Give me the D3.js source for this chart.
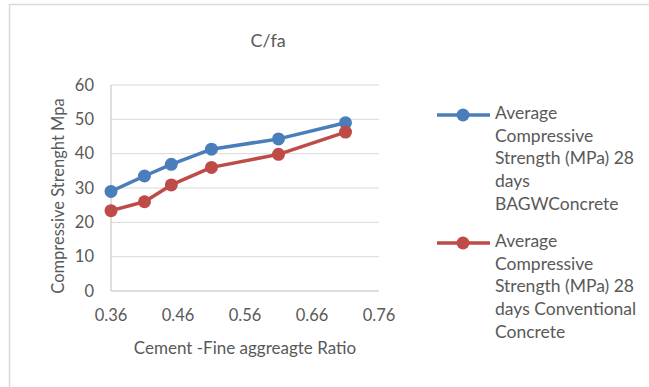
<!DOCTYPE html>
<html><head><meta charset="utf-8">
<script src="https://cdn.jsdelivr.net/npm/d3@7"></script>
<style>body{margin:0;background:#fff}svg{display:block}text{font-family:Lato,"Open Sans",sans-serif;fill:#595959}</style>
</head><body><svg id="c" width="649" height="387"></svg>
<script>
const ratios = [0.36, 0.41, 0.45, 0.51, 0.61, 0.71];
const bagw = [29.0, 33.5, 36.9, 41.3, 44.3, 49.0];
const conventional = [23.4, 26.0, 30.9, 36.0, 39.8, 46.3];
const xTicks = [0.36, 0.46, 0.56, 0.66, 0.76];
const yTicks = [0, 10, 20, 30, 40, 50, 60];
const seriesNames = [
  ["Average", "Compressive", "Strength (MPa) 28", "days", "BAGWConcrete"],
  ["Average", "Compressive", "Strength (MPa) 28", "days Conventional", "Concrete"]
];
const colors = ["#4A7EBB", "#BE4B48"];
const title = "C/fa";
const xTitle = "Cement -Fine aggreagte Ratio";
const yTitle = "Compressive Strenght Mpa";

const svg = d3.select("#c");
svg.append("rect").attr("x",9.5).attr("y",4.5).attr("width",700).attr("height",500)
  .attr("fill","#fff").attr("stroke","#D9D9D9").attr("stroke-width",1.5);

const x = d3.scaleLinear().domain([0.36,0.76]).range([111,379]);
const y = d3.scaleLinear().domain([0,60]).range([291,85]);

const g = svg.append("g");
g.selectAll("line.grid").data(yTicks.filter(d=>d>0)).join("line")
  .attr("x1",111).attr("x2",379).attr("y1",d=>y(d)).attr("y2",d=>y(d))
  .attr("stroke","#D9D9D9").attr("stroke-width",1);
g.append("line").attr("x1",111).attr("x2",379).attr("y1",y(0)).attr("y2",y(0)).attr("stroke","#BFBFBF");
g.append("line").attr("x1",111).attr("x2",111).attr("y1",y(0)).attr("y2",y(60)).attr("stroke","#BFBFBF");

g.selectAll("text.yt").data(yTicks).join("text")
  .attr("x",94).attr("y",d=>y(d)).attr("dy","0.35em").attr("text-anchor","end")
  .attr("font-size",16.5).text(d=>d);
g.selectAll("text.xt").data(xTicks).join("text")
  .attr("x",d=>x(d)).attr("y",315).attr("dy","0.35em").attr("text-anchor","middle")
  .attr("font-size",16.5).text(d=>d.toFixed(2));

svg.append("text").attr("x",268).attr("y",41).attr("dy","0.35em").attr("text-anchor","middle")
  .attr("font-size",18).text(title);
svg.append("text").attr("x",245).attr("y",348).attr("dy","0.35em").attr("text-anchor","middle")
  .attr("font-size",17).text(xTitle);
svg.append("text").attr("transform","translate(58,196) rotate(-90)").attr("dy","0.35em")
  .attr("text-anchor","middle").attr("font-size",16.5).text(yTitle);

const line = d3.line().x(d=>x(d[0])).y(d=>y(d[1]));
[bagw, conventional].forEach((vals,i)=>{
  const pts = ratios.map((r,j)=>[r, vals[j]]);
  g.append("path").attr("d",line(pts)).attr("fill","none").attr("stroke",colors[i])
    .attr("stroke-width",3.5).attr("stroke-linejoin","round");
  g.selectAll(null).data(pts).join("circle").attr("cx",d=>x(d[0])).attr("cy",d=>y(d[1]))
    .attr("r",6.5).attr("fill",colors[i]);
});

const legY = [115, 243];
seriesNames.forEach((lines,i)=>{
  const lg = svg.append("g");
  lg.append("line").attr("x1",437).attr("x2",490).attr("y1",legY[i]).attr("y2",legY[i])
    .attr("stroke",colors[i]).attr("stroke-width",3.5);
  lg.append("circle").attr("cx",463).attr("cy",legY[i]).attr("r",6.5).attr("fill",colors[i]);
  lines.forEach((t,k)=>{
    lg.append("text").attr("x",495).attr("y",legY[i]-2+k*22.6).attr("dy","0.35em")
      .attr("font-size",17.5).text(t);
  });
});
</script></body></html>
